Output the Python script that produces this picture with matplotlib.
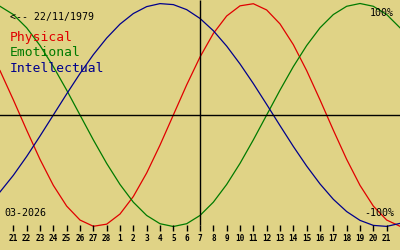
import matplotlib
matplotlib.use('Agg')
import matplotlib.pyplot as plt

######################################################################
# Chart data
######################################################################

birth_label = "<-- 22/11/1979"
month_label = "03-2026"

# day offsets relative to today (centre line), one value per day
offsets = list(range(-15, 16))
physical = [0.398, 0.136, -0.136, -0.398, -0.631, -0.817, -0.942, -0.998,
            -0.979, -0.888, -0.731, -0.520, -0.270, 0.000, 0.270, 0.520,
            0.731, 0.888, 0.979, 0.998, 0.942, 0.817, 0.631, 0.398,
            0.136, -0.136, -0.398, -0.631, -0.817, -0.942, -0.998]
emotional = [0.975, 0.901, 0.782, 0.623, 0.434, 0.223, 0.000, -0.223,
             -0.434, -0.623, -0.782, -0.901, -0.975, -1.000, -0.975, -0.901,
             -0.782, -0.623, -0.434, -0.223, 0.000, 0.223, 0.434, 0.623,
             0.782, 0.901, 0.975, 1.000, 0.975, 0.901, 0.782]
intellectual = [-0.690, -0.541, -0.372, -0.189, 0.000, 0.189, 0.372, 0.541,
                0.690, 0.815, 0.910, 0.972, 0.999, 0.990, 0.945, 0.866,
                0.756, 0.618, 0.458, 0.282, 0.095, -0.095, -0.282, -0.458,
                -0.618, -0.756, -0.866, -0.945, -0.990, -0.999, -0.972]

# tick labels: 21 Feb .. 21 Mar
tick_offsets = list(range(-14, 15))
tick_days = [21, 22, 23, 24, 25, 26, 27, 28,
             1, 2, 3, 4, 5, 6, 7, 8, 9, 10, 11, 12, 13, 14, 15, 16, 17,
             18, 19, 20, 21]

series = [("Physical", physical, '#e00000'),
          ("Emotional", emotional, '#007a00'),
          ("Intellectual", intellectual, '#00008c')]

BG = '#e0d386'
W, H = 400., 250.
ZERO_Y, AMP = 115., 111.5


def val(py):
    # pixel row -> value
    return (ZERO_Y - py) / AMP


######################################################################
# Plotting
######################################################################

def plot_biorhythm():
    fig = plt.figure(figsize=(4, 2.5), dpi=100, facecolor=BG)
    ax = fig.add_axes([0, 0, 1, 1])
    ax.set_facecolor(BG)
    ax.set_xlim(-15, 15)
    ax.set_ylim(val(H), val(0))
    ax.axis('off')

    mono = 'DejaVu Sans Mono'
    for name, vals, col in series:
        ax.plot(offsets, vals, color=col, lw=0.9, solid_joinstyle='round')

    # axes lines
    ax.axhline(0, color='black', lw=1.0)
    ax.vlines(0, val(225), val(0), color='black', lw=1.0)

    # day ticks
    ax.vlines(tick_offsets, val(231), val(224.5), color='black', lw=1.0)
    for off, day in zip(tick_offsets, tick_days):
        ax.text(off, val(238.5), str(day), ha='center', va='center',
                family=mono, weight='bold', fontsize=5.6)

    # labels
    def ftext(px, py, s, **kw):
        fig.text(px / W, 1 - py / H, s, family=mono, va='center', **kw)
    ftext(9.5, 16.5, birth_label, fontsize=7.1)
    for i, (name, vals, col) in enumerate(series):
        ftext(9.5, 38 + 15 * i, name, color=col, fontsize=9.4)
    ftext(394, 12.5, "100%", ha='right', fontsize=7.2)
    ftext(394, 213, "-100%", ha='right', fontsize=7.2)
    ftext(4.5, 212.5, month_label, fontsize=7.2)
    return fig


def main():
    fig = plot_biorhythm()
    fig.savefig('out.png', dpi=100, facecolor=BG)

if __name__ == '__main__':
    main()
